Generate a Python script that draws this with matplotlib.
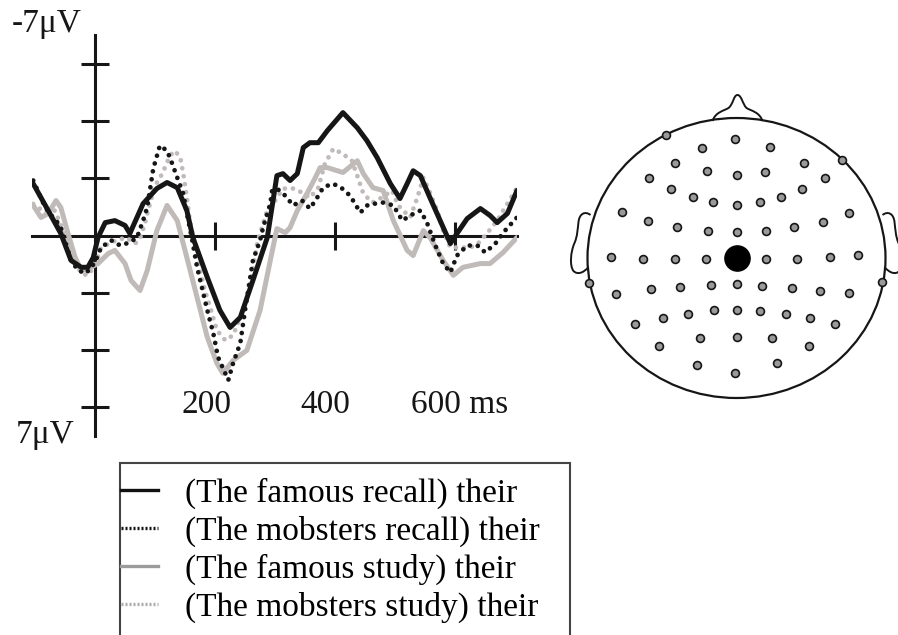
import matplotlib
matplotlib.use('Agg')
import matplotlib.pyplot as plt
import numpy as np
from matplotlib.lines import Line2D
from matplotlib.patches import Ellipse, Rectangle, PathPatch
from matplotlib.path import Path

plt.rcParams['font.family'] = ['Liberation Serif', 'DejaVu Serif']

# ---------------- data ----------------
famous_recall_t = [-103, -78, -57, -40, -23, -12, -3, 5, 17, 33, 50, 58, 80, 103, 120, 137, 153, 163,
                   187, 208, 225, 242, 263, 287, 303, 313, 325, 337, 347, 358, 372, 387, 413, 437,
                   453, 470, 492, 508, 520, 530, 542, 558, 575, 592, 603, 620, 642, 658, 670, 687, 703]
famous_recall_v = [-1.81, -0.87, -0.07, 0.87, 1.11, 1.11, 0.77, 0.07, -0.45, -0.52, -0.35, -0.07, -1.11,
                   -1.64, -1.85, -1.67, -0.87, 0.07, 1.46, 2.61, 3.21, 2.86, 1.57, 0.07, -2.09, -2.16,
                   -1.92, -2.16, -3.07, -3.24, -3.24, -3.66, -4.29, -3.76, -3.31, -2.72, -1.81, -1.29,
                   -1.81, -2.26, -2.09, -1.32, -0.52, 0.28, -0.07, -0.59, -0.94, -0.70, -0.45, -0.77, -1.57]

mobsters_recall_t = [-103, -83, -70, -58, -50, -40, -28, -15, 0, 10, 27, 42, 58, 70, 80, 87, 97, 108, 120,
                     128, 137, 147, 153, 162, 170, 178, 187, 197, 205, 217, 222, 230, 242, 250, 263, 275,
                     280, 292, 295, 303, 317, 330, 345, 358, 370, 380, 395, 408, 425, 442, 455, 480, 497,
                     512, 525, 542, 553, 567, 580, 592, 603, 620, 637, 650, 667, 680, 692, 703]
mobsters_recall_v = [-1.92, -0.98, -0.63, -0.35, 0.17, 0.87, 1.22, 1.32, 0.94, 0.42, 0.17, 0.35, 0.24,
                     0.07, -0.52, -0.98, -2.33, -3.14, -2.96, -2.54, -2.02, -1.46, -0.77, 0.17, 1.11,
                     1.81, 2.61, 3.41, 4.25, 4.81, 5.05, 4.46, 3.76, 2.60, 0.87, 0.17, -0.28, -1.11,
                     -1.57, -1.64, -1.39, -1.05, -1.22, -0.94, -1.32, -1.67, -1.81, -1.71, -1.39, -0.80,
                     -1.08, -1.15, -1.05, -0.52, -0.70, -0.87, -0.45, 0.35, 0.98, 1.29, 0.70, 0.35,
                     0.35, 0.59, 0.28, -0.10, -0.38, -0.63]

famous_study_t = [-103, -90, -78, -65, -57, -45, -33, -23, -7, 5, 22, 33, 50, 60, 75, 87, 103, 120, 137,
                  153, 170, 187, 203, 213, 230, 253, 275, 292, 303, 317, 325, 337, 353, 367, 375, 387,
                  413, 437, 447, 463, 480, 497, 520, 530, 547, 558, 580, 597, 613, 642, 658, 680, 703]
famous_study_v = [-1.05, -0.63, -0.77, -1.22, -0.98, -0.07, 0.77, 1.22, 1.11, 0.98, 0.63, 0.52, 0.98,
                  1.57, 1.92, 1.22, -0.17, -1.05, -0.52, 0.77, 2.16, 3.55, 4.46, 4.81, 4.36, 4.01,
                  2.61, 0.87, -0.24, -0.10, -0.28, -0.87, -1.46, -2.02, -2.37, -2.37, -2.20, -2.61,
                  -2.16, -1.67, -1.57, -0.52, 0.52, 0.70, -0.17, 0.07, 0.87, 1.39, 1.11, 0.98, 0.98,
                  0.59, 0.07]

mobsters_study_t = [-103, -95, -82, -67, -58, -50, -37, -23, -12, 0, 10, 35, 52, 67, 75, 83, 92, 100, 112,
                    125, 133, 142, 147, 153, 158, 167, 175, 183, 192, 203, 217, 230, 247, 255, 262, 270,
                    278, 283, 288, 300, 313, 330, 345, 358, 372, 383, 397, 412, 428, 438, 447, 462, 475,
                    495, 505, 525, 537, 547, 558, 570, 580, 592, 612, 625, 638, 653, 670, 687, 703]
mobsters_study_v = [-1.10, -0.98, -0.80, -0.87, -0.42, 0.07, 0.77, 1.32, 1.39, 1.05, 0.42, 0.17, 0.07,
                    0.28, 0.10, -0.42, -1.15, -1.74, -2.16, -2.79, -2.96, -2.72, -2.16, -1.32, -0.52,
                    0.42, 1.22, 1.92, 2.51, 3.31, 3.66, 3.48, 2.61, 2.02, 1.32, 0.28, -0.28, -0.63,
                    -0.94, -1.22, -1.64, -1.64, -1.50, -1.32, -1.67, -2.51, -3.03, -2.86, -2.61, -2.02,
                    -1.46, -1.15, -1.29, -1.57, -1.05, -0.63, -1.32, -2.02, -1.50, -0.87, -0.17, 0.42,
                    0.42, 0.42, 0.28, -0.07, -0.52, -1.11, -1.67]

legend_labels = ['(The famous recall) their', '(The mobsters recall) their',
                 '(The famous study) their', '(The mobsters study) their']

y_ticks = [-6, -4, -2, 2, 4, 6]
x_ticks = [200, 400, 600]
x_tick_labels = ['200', '400', '600 ms']

# electrode montage (normalised head coordinates, x right, y toward nose)
elec_x = [-0.472, -0.007, 0.228, -0.230, 0.705, -0.414, 0.456, -0.195, 0.002, 0.192, -0.586, 0.593,
          -0.441, 0.441, -0.291, 0.298, -0.161, 0.002, 0.161, -0.767, 0.758, -0.593, 0.582, -0.396,
          0.387, -0.190, 0.002, 0.201, -0.839, -0.626, -0.412, -0.208, 0.199, 0.407, 0.629, 0.817,
          -0.991, 0.978, -0.808, -0.577, -0.380, -0.172, 0.000, 0.174, 0.374, 0.562, 0.758, -0.678,
          -0.492, -0.324, -0.150, 0.000, 0.157, 0.333, 0.492, 0.660, -0.246, 0.000, 0.235, -0.519,
          0.488, -0.268, 0.271, -0.007]
elec_y = [0.879, 0.850, 0.790, 0.783, 0.702, 0.679, 0.679, 0.621, 0.593, 0.614, 0.569, 0.571, 0.495,
          0.490, 0.438, 0.438, 0.402, 0.381, 0.402, 0.326, 0.321, 0.262, 0.255, 0.224, 0.224, 0.195,
          0.188, 0.193, 0.005, -0.007, -0.007, -0.007, -0.007, -0.007, 0.007, 0.019, -0.176, -0.171,
          -0.257, -0.224, -0.210, -0.190, -0.183, -0.198, -0.212, -0.233, -0.250, -0.471, -0.426,
          -0.402, -0.374, -0.369, -0.379, -0.398, -0.429, -0.471, -0.574, -0.564, -0.574, -0.631,
          -0.626, -0.764, -0.750, -0.821]
site_x = [0.0]
site_y = [0.0]

# ---------------- figure ----------------
W, H = 898, 635
fig = plt.figure(figsize=(W / 100, H / 100), dpi=100)

def fx(px):
    return px / W

def fy(py):
    return 1 - py / H

INK = '#161616'
GRAY = '#c0bab9'
FS = 24

ax = fig.add_axes([fx(32), fy(436), fx(517) - fx(32), fy(35) - fy(436)])
ax.set_xlim(-105, 703)
ax.set_ylim(7, -7)
ax.patch.set_alpha(0)
for s in ['top', 'right']:
    ax.spines[s].set_visible(False)
ax.spines['left'].set_position(('data', 0))
ax.spines['bottom'].set_position(('data', 0))
for s in ['left', 'bottom']:
    ax.spines[s].set_linewidth(2.2)
    ax.spines[s].set_color(INK)
ax.set_yticks(y_ticks)
ax.set_xticks(x_ticks)
ax.tick_params(axis='both', direction='inout', length=20, width=2.2, color=INK,
               labelleft=False, labelbottom=False)

dot = (0, (0.01, 1.7))
ax.plot(famous_study_t, famous_study_v, color=GRAY, lw=3.6, solid_capstyle='round',
        solid_joinstyle='round', zorder=3)
ax.plot(mobsters_study_t, mobsters_study_v, color=GRAY, lw=3.4, linestyle=dot,
        dash_capstyle='round', zorder=4)
ax.plot(mobsters_recall_t, mobsters_recall_v, color=INK, lw=3.4, linestyle=dot,
        dash_capstyle='round', zorder=5)
ax.plot(famous_recall_t, famous_recall_v, color=INK, lw=3.6, solid_capstyle='round',
        solid_joinstyle='round', zorder=6)

label_shift = [-24, -25, -32]
for t, lab, dx in zip(x_ticks, x_tick_labels, label_shift):
    ax.annotate(lab, xy=(t, 6.2), xytext=(dx, 0), textcoords='offset points',
                ha='left', va='baseline', fontsize=FS, color=INK)

ax.annotate('-7\u03bcV', xy=(0, -7), xytext=(-10, 2), textcoords='offset points',
            ha='right', va='baseline', fontsize=FS, color=INK, annotation_clip=False)
ax.annotate('7\u03bcV', xy=(0, 7), xytext=(-15, -5), textcoords='offset points',
            ha='right', va='baseline', fontsize=FS, color=INK, annotation_clip=False)

# ---------------- legend ----------------
handles = [Line2D([], [], color='#111111', lw=2.4),
           Line2D([], [], color='#111111', lw=2.4, linestyle=(0, (0.6, 0.6))),
           Line2D([], [], color='#9b9b9b', lw=2.4),
           Line2D([], [], color='#ababab', lw=2.4, linestyle=(0, (0.6, 0.6)))]
fig.legend(handles, legend_labels, loc='upper left', bbox_to_anchor=(fx(121), fy(478)),
           frameon=False, fontsize=FS, handlelength=1.12, handletextpad=0.8,
           labelspacing=0.2, borderaxespad=0, borderpad=0)
fig.add_artist(Rectangle((fx(120), fy(700)), fx(570) - fx(120), fy(463) - fy(700),
                         transform=fig.transFigure, fill=False, lw=1.5, edgecolor='#444444'))

# ---------------- head ----------------
cx, cy = 736.5, 258
hx = fig.add_axes([fx(560), fy(420), fx(898) - fx(560), fy(85) - fy(420)])
hx.set_xlim(560 - cx, 898 - cx)
hx.set_ylim(cy - 420, cy - 85)
hx.axis('off')
RX, RY = 149, 140
hx.add_patch(Ellipse((0, 0), 2 * RX, 2 * RY, fill=False, lw=1.6, edgecolor=INK))

C = Path.CURVE4
nose = Path([(-24, 137), (-21, 146), (-13, 147), (-8, 150), (-3, 154), (-3, 163), (1, 163),
             (5, 163), (6, 154), (10, 150), (15, 147), (23, 146), (26, 137)],
            [Path.MOVETO, C, C, C, C, C, C, C, C, C, C, C, C])
hx.add_patch(PathPatch(nose, fill=False, lw=1.4, edgecolor=INK))
ear_pts = [(-146, 43), (-151, 47), (-157, 45), (-158, 36), (-159, 28), (-159, 22), (-162, 15),
           (-166, 6), (-167, -8), (-163, -13), (-159, -17), (-153, -15), (-148, -9)]
codes = [Path.MOVETO] + [C] * 12
hx.add_patch(PathPatch(Path(ear_pts, codes), fill=False, lw=1.4, edgecolor=INK))
hx.add_patch(PathPatch(Path([(-x, y) for x, y in ear_pts], codes), fill=False, lw=1.4, edgecolor=INK))

hx.scatter(np.array(elec_x) * RX, np.array(elec_y) * RY, s=32, facecolor='#9a9a9a',
           edgecolor=INK, linewidths=1.2, zorder=3)
hx.scatter(np.array(site_x) * RX, np.array(site_y) * RY, s=330, color='black', zorder=4)

fig.savefig('out.png', dpi=100)
